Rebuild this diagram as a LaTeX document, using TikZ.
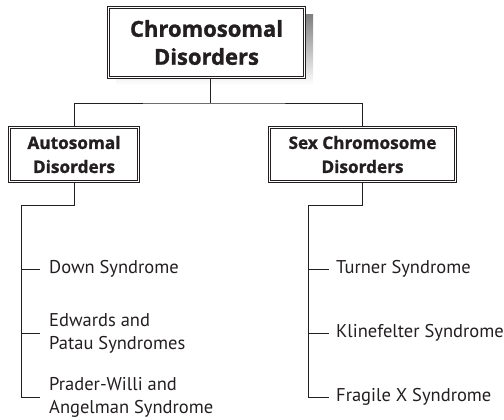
\documentclass[tikz,border=0pt]{standalone}
\usepackage{fontspec}
\setmainfont{PT Sans}
\newfontfamily\titlefont{Open Sans}[BoldFeatures={FakeBold=1.2}]
\definecolor{ink}{HTML}{231F20}
\definecolor{shade}{HTML}{CFD0D2}
\begin{document}
\begin{tikzpicture}[x=1pt,y=-1pt,
  box/.style={draw=ink, double=white, double distance=1.4pt, line width=0.8pt,
    fill=white, align=center, inner sep=0pt, text=ink},
  item/.style={anchor=west, align=left, inner sep=0pt, text=ink,
    font=\fontsize{18.5}{23}\selectfont},
  conn/.style={draw=ink, line width=0.9pt}]
\useasboundingbox (0,0) rectangle (504,420);
% shadow of top box
\fill[shade] (116,15) rectangle (313,85);
\node[box, minimum width=196pt, minimum height=70pt,
  font=\titlefont\bfseries\fontsize{22}{28}\selectfont] (top) at (206.5,42.5)
  {Chromosomal\\Disorders};
\node[box, minimum width=129pt, minimum height=54pt,
  font=\titlefont\bfseries\fontsize{17.2}{24}\selectfont] (left) at (74,154.5)
  {Autosomal\\Disorders};
\node[box, minimum width=186pt, minimum height=54pt,
  font=\titlefont\bfseries\fontsize{17.2}{24}\selectfont] (right) at (362.5,154.5)
  {Sex Chromosome\\Disorders};
% items
\node[item] (a1) at (49,269) {Down Syndrome};
\node[item] (a2) at (49,333) {Edwards and\\Patau Syndromes};
\node[item] (a3) at (49,397) {Prader-Willi and\\Angelman Syndrome};
\node[item] (b1) at (336,269) {Turner Syndrome};
\node[item] (b2) at (336,333) {Klinefelter Syndrome};
\node[item] (b3) at (336,397) {Fragile X Syndrome};
% junctions
\coordinate (j) at (210,103);
\coordinate (lj) at (21,205);
\coordinate (rj) at (308,205);
% connectors
\draw[conn] (top.south -| j) -- (j);
\draw[conn] (left.north) |- (j) -| (right.north);
\draw[conn] (left.south) |- (lj) |- ([xshift=-9pt]a3.west);
\draw[conn] (lj |- a1.west) -- ([xshift=-9pt]a1.west);
\draw[conn] (lj |- a2.west) -- ([xshift=-9pt]a2.west);
\draw[conn] (right.south) |- (rj) |- ([xshift=-7pt]b3.west);
\draw[conn] (rj |- b1.west) -- ([xshift=-7pt]b1.west);
\draw[conn] (rj |- b2.west) -- ([xshift=-7pt]b2.west);
\end{tikzpicture}
\end{document}
